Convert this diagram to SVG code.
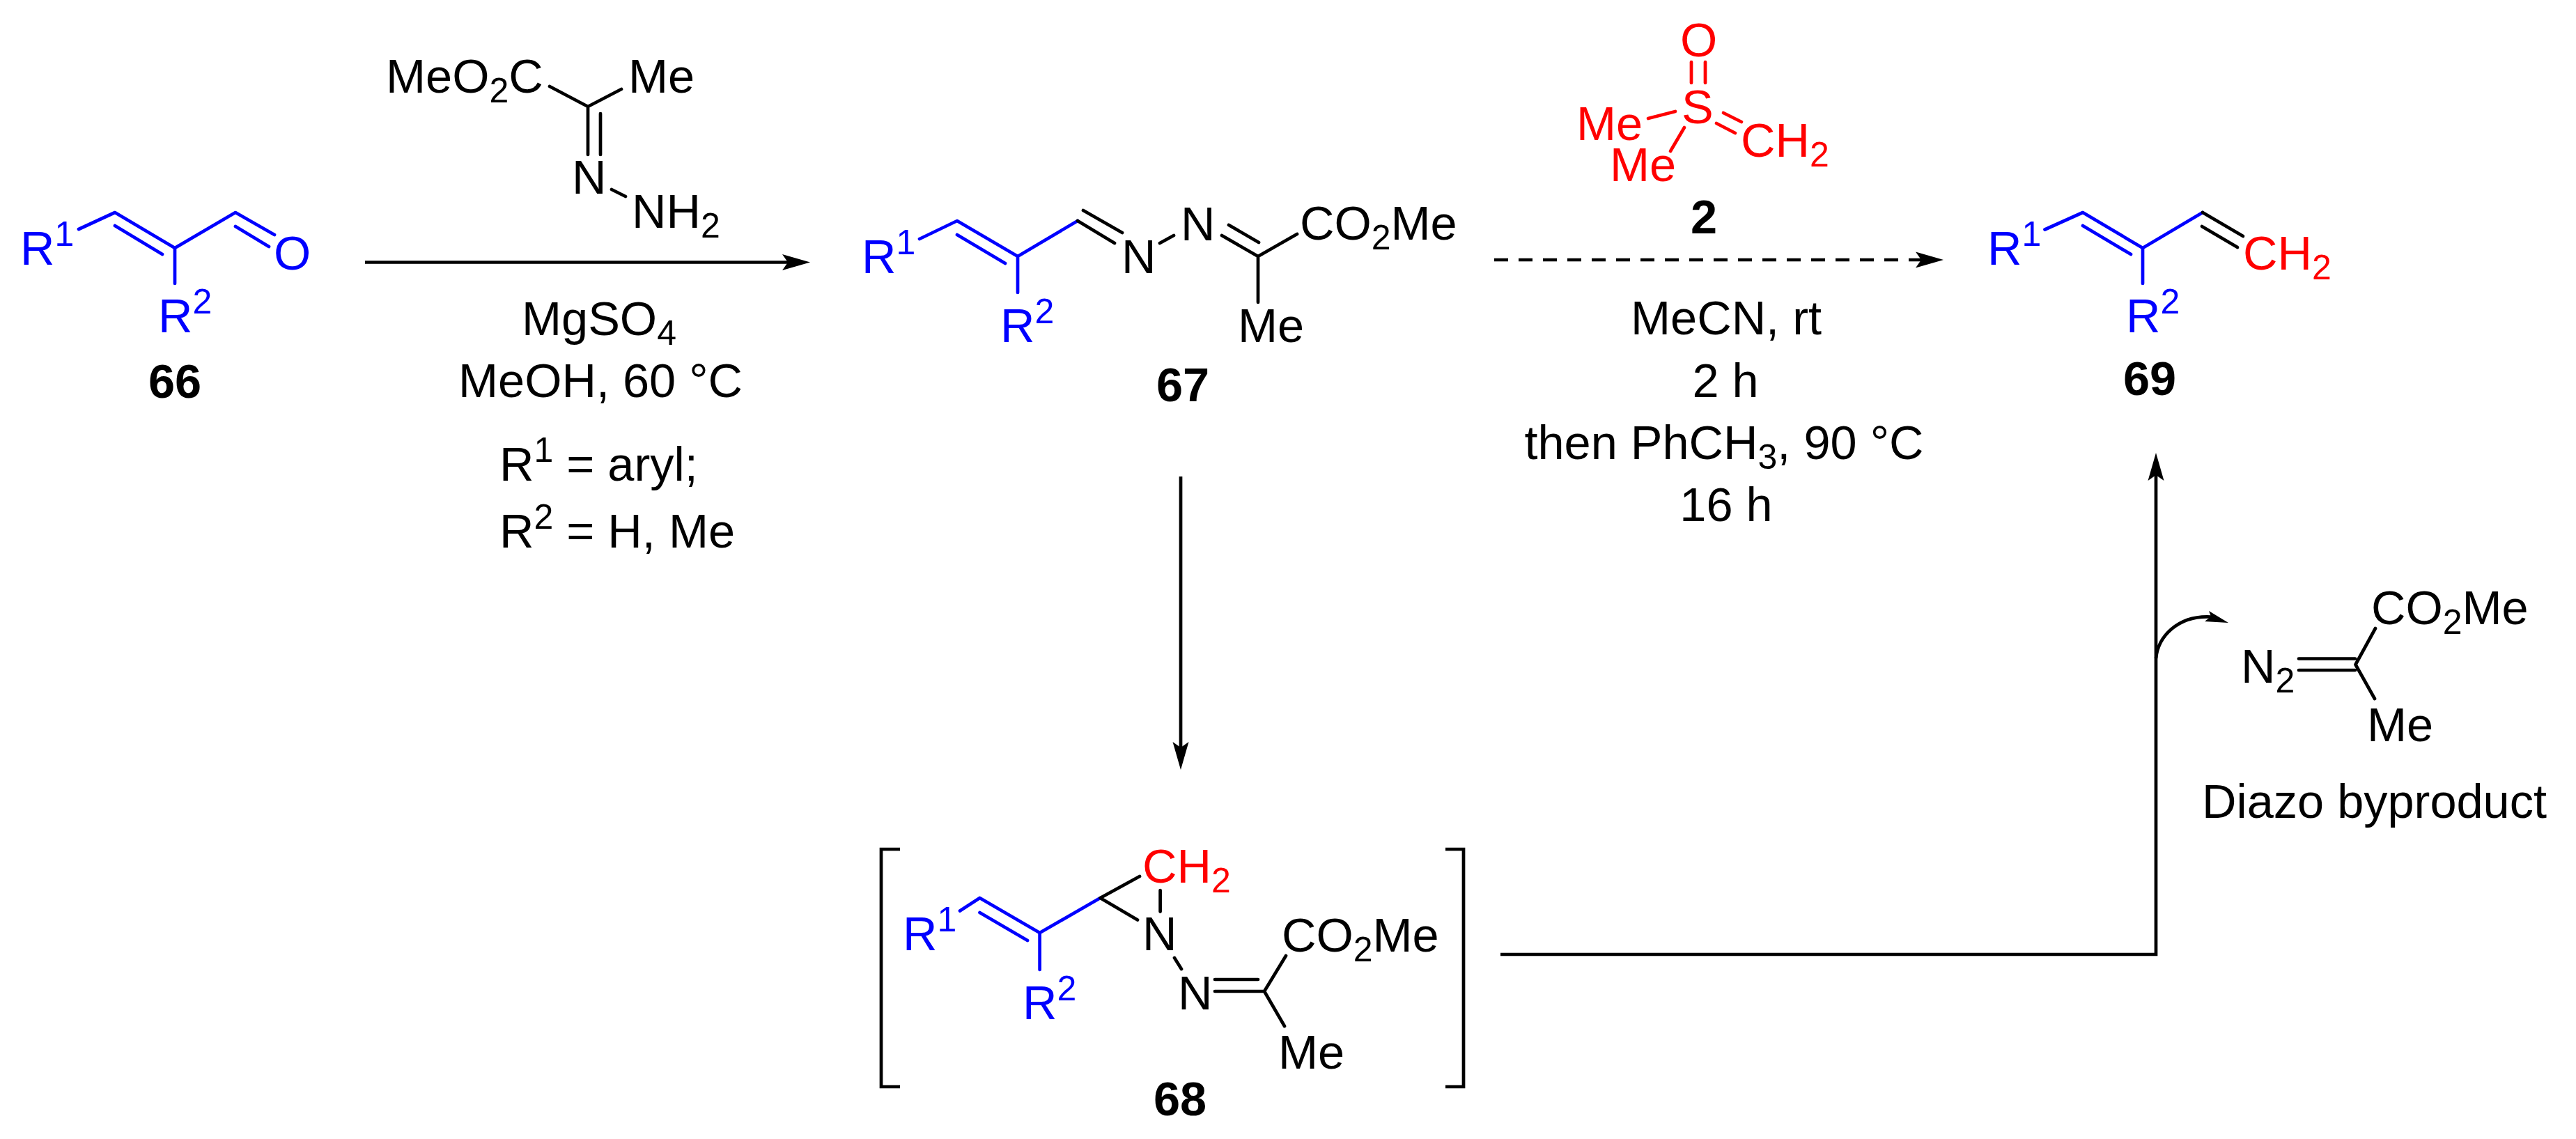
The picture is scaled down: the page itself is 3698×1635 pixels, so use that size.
<svg xmlns="http://www.w3.org/2000/svg" width="3698" height="1635" viewBox="0 0 3698 1635">
<style>
text{font-family:"Liberation Sans",Arial,sans-serif;font-size:68.500px;fill:#000}
.s{font-size:50px}
.b{font-weight:bold}
.blue text,text.blue{fill:#0000ff}
.red text,text.red{fill:#ff0000}
.m{text-anchor:middle}
path{fill:none;stroke:#000;stroke-width:4.700;stroke-linecap:round;stroke-linejoin:round}
path.bl{stroke:#0000ff}
path.rd{stroke:#ff0000}
.ar{stroke-width:4.700;stroke-linecap:butt;stroke-linejoin:miter}
.head{fill:#000;stroke:none}
</style>
<defs>
<marker id="arrow" markerUnits="userSpaceOnUse" markerWidth="44" markerHeight="26" viewBox="0 -13 44 26" refX="30" refY="0" orient="auto" overflow="visible">
<path class="head" d="M0 -11.5L40 0L0 11.5L8 0Z"/>
</marker>
</defs>
<g id="connectors">
<path class="ar" d="M524 376.5H1153" marker-end="url(#arrow)"/>
<path class="ar" d="M2145 373H2780" stroke-dasharray="20 15" marker-end="url(#arrow)"/>
<path class="ar" d="M1695 684V1095" marker-end="url(#arrow)"/>
<path class="ar" d="M2154 1370H3095V660" marker-end="url(#arrow)"/>
<path class="ar" d="M3095 945C3098 915 3125 883 3174 885.500"/>
<path class="head" d="M3199 894L3171 877L3174 885L3165 892Z"/>
</g>
<g id="node-66">
<path class="bl" d="M113 329L165 305L251 356L338 305L394 337M165 324L233 365M338 325L386 354M251 356V407"/>
<text class="blue" x="29" y="380">R<tspan class="s" dy="-27">1</tspan></text>
<text class="blue" x="393" y="387">O</text>
<text class="blue" x="227" y="477">R<tspan class="s" dy="-27">2</tspan></text>
<text class="b m" x="251" y="571">66</text>
</g>
<g id="reagent-hydrazone">
<path d="M789 124L844 153L892 128M844 153V222M862 163V222M878 272L898 282"/>
<text x="554" y="132.500">MeO<tspan class="s" dy="14">2</tspan><tspan dy="-14">C</tspan></text>
<text x="902" y="132.500">Me</text>
<text x="821" y="278">N</text>
<text x="907" y="327">NH<tspan class="s" dy="14">2</tspan></text>
</g>
<g id="conditions-1">
<text x="749" y="481">MgSO<tspan class="s" dy="14">4</tspan></text>
<text class="m" x="862" y="570">MeOH, 60 °C</text>
<text x="717" y="690">R<tspan class="s" dy="-27">1</tspan><tspan dy="27"> = aryl;</tspan></text>
<text x="717" y="786">R<tspan class="s" dy="-27">2</tspan><tspan dy="27"> = H, Me</tspan></text>
</g>
<g id="node-67">
<path class="bl" d="M1320 343L1374 317L1461 368L1547 317M1374 337L1443 378M1461 368V420"/>
<path d="M1547 317L1600 349M1555 302L1611 334M1665 349L1685 338M1754 338L1806 368L1862 336M1764 323L1807 348M1806 368V434"/>
<text class="blue" x="1237" y="392">R<tspan class="s" dy="-27">1</tspan></text>
<text class="blue" x="1436" y="491">R<tspan class="s" dy="-27">2</tspan></text>
<text x="1610" y="392">N</text>
<text x="1695" y="345">N</text>
<text x="1866" y="344">CO<tspan class="s" dy="14">2</tspan><tspan dy="-14">Me</tspan></text>
<text x="1777" y="491">Me</text>
<text class="b m" x="1698" y="576">67</text>
</g>
<g id="node-2">
<path class="rd" d="M2428 89V119M2448 89V119M2366 170L2405 160M2398 217L2418 183M2474 162L2500 175M2464 177L2491 191"/>
<text class="red" x="2412" y="81">O</text>
<text class="red" x="2414" y="177">S</text>
<text class="red" x="2263" y="201">Me</text>
<text class="red" x="2311" y="260">Me</text>
<text class="red" x="2499" y="225">CH<tspan class="s" dy="14">2</tspan></text>
<text class="b m" x="2446" y="335">2</text>
</g>
<g id="conditions-2">
<text class="m" x="2478" y="480">MeCN, rt</text>
<text class="m" x="2477" y="570">2 h</text>
<text class="m" x="2475" y="659">then PhCH<tspan class="s" dy="14">3</tspan><tspan dy="-14">, 90 °C</tspan></text>
<text class="m" x="2478" y="748">16 h</text>
</g>
<g id="node-69">
<path class="bl" d="M2935.500 329.500L2990 305L3076 356L3162 305M2990 324L3059 365M3076 356V407"/>
<path d="M3162 305L3220 339M3161 325L3212 355"/>
<text class="blue" x="2853" y="380">R<tspan class="s" dy="-27">1</tspan></text>
<text class="blue" x="3052" y="477">R<tspan class="s" dy="-27">2</tspan></text>
<text class="red" x="3220" y="387">CH<tspan class="s" dy="14">2</tspan></text>
<text class="b m" x="3086" y="567">69</text>
</g>
<g id="node-68">
<path class="ar" d="M1292 1219H1265V1560H1292M2075 1219H2101V1560H2075"/>
<path class="bl" d="M1378 1307.500L1406.500 1289L1492.600 1339L1579.500 1289M1406.500 1310L1475 1350M1492.600 1339V1392"/>
<path d="M1636 1258L1579.500 1289L1633 1320.500M1665.600 1278V1308.600M1686 1375L1696 1391M1744 1406H1806M1744 1423H1815L1846 1372M1815 1423L1844 1473"/>
<text class="blue" x="1296" y="1364">R<tspan class="s" dy="-27">1</tspan></text>
<text class="blue" x="1468" y="1463">R<tspan class="s" dy="-27">2</tspan></text>
<text class="red" x="1640" y="1267">CH<tspan class="s" dy="14">2</tspan></text>
<text x="1640" y="1364">N</text>
<text x="1691" y="1449">N</text>
<text x="1840" y="1366">CO<tspan class="s" dy="14">2</tspan><tspan dy="-14">Me</tspan></text>
<text x="1835" y="1534">Me</text>
<text class="b m" x="1694" y="1601">68</text>
</g>
<g id="diazo-byproduct">
<path d="M3300 945.500H3381M3300 962H3381M3410 902L3381.500 954L3409 1003"/>
<text x="3404" y="896">CO<tspan class="s" dy="14">2</tspan><tspan dy="-14">Me</tspan></text>
<text x="3217" y="980">N<tspan class="s" dy="14">2</tspan></text>
<text x="3398" y="1064">Me</text>
<text x="3161" y="1174">Diazo byproduct</text>
</g>
</svg>
